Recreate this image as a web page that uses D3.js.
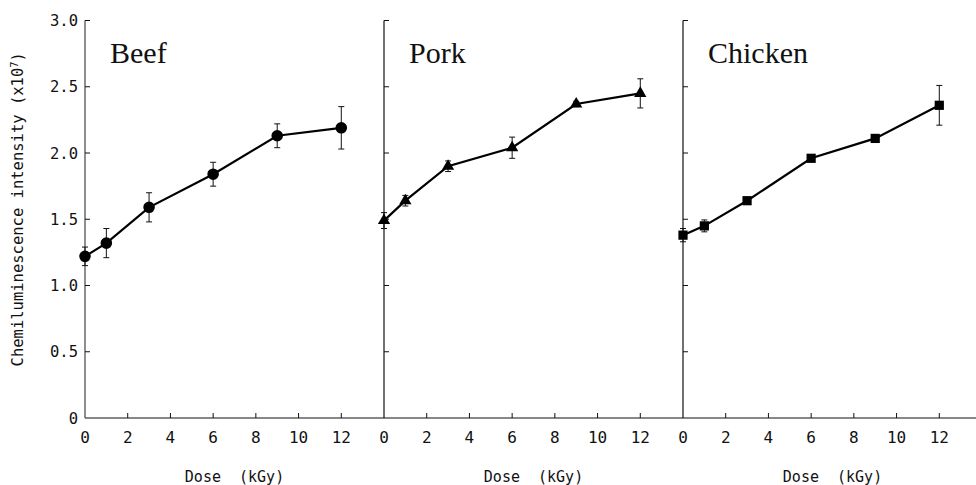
<!DOCTYPE html>
<html>
<head>
<meta charset="utf-8">
<script src="https://cdn.jsdelivr.net/npm/d3@7"></script>
<style>
  body { margin: 0; background: #fff; }
  svg { display: block; }
  .mono { font-family: "DejaVu Sans Mono", "Liberation Mono", monospace; }
</style>
</head>
<body>
<div id="chart"></div>
<script>
// Data (values in units of 10^7)
const doses = [0, 1, 3, 6, 9, 12];
const panelNames = ['Beef', 'Pork', 'Chicken'];
const beefMean = [1.22, 1.32, 1.59, 1.84, 2.13, 2.19];
const beefErr = [0.07, 0.11, 0.11, 0.09, 0.09, 0.16];
const porkMean = [1.49, 1.64, 1.90, 2.04, 2.37, 2.45];
const porkErr = [0.06, 0.04, 0.04, 0.08, 0.02, 0.11];
const chickenMean = [1.38, 1.45, 1.64, 1.96, 2.11, 2.36];
const chickenErr = [0.05, 0.045, 0.02, 0.02, 0.02, 0.15];
const markers = ['circle', 'triangle', 'square'];
const xTicks = [0, 2, 4, 6, 8, 10, 12];
const yTicks = [0, 0.5, 1.0, 1.5, 2.0, 2.5, 3.0];

const W = 976, H = 485;
const margin = { top: 20.5, left: 85, bottom: 67 };
const panelW = 299;
const plotH = H - margin.top - margin.bottom;
const TICK = 5;
const INK = '#111';

const series = [
  { name: panelNames[0], mean: beefMean, err: beefErr, marker: markers[0] },
  { name: panelNames[1], mean: porkMean, err: porkErr, marker: markers[1] },
  { name: panelNames[2], mean: chickenMean, err: chickenErr, marker: markers[2] }
];

const svg = d3.select('#chart').append('svg')
  .attr('width', W).attr('height', H);

const y = d3.scaleLinear().domain([0, 3.0]).range([margin.top + plotH, margin.top]);
const x = d3.scaleLinear().domain([0, 14]).range([0, panelW]);

// Continuous bottom axis line across all panels
svg.append('line')
  .attr('x1', margin.left).attr('x2', W)
  .attr('y1', y(0)).attr('y2', y(0))
  .attr('stroke', INK).attr('stroke-width', 1.2);

series.forEach((s, i) => {
  const g = svg.append('g')
    .attr('transform', `translate(${margin.left + i * panelW},0)`);

  // y axis line + inward ticks
  g.append('line')
    .attr('x1', 0).attr('x2', 0)
    .attr('y1', y(3.0)).attr('y2', y(0))
    .attr('stroke', i === 0 ? '#444' : INK).attr('stroke-width', 1.2);
  g.selectAll('.ytick').data(yTicks.slice(1)).enter().append('line')
    .attr('x1', 0).attr('x2', TICK)
    .attr('y1', d => y(d)).attr('y2', d => y(d))
    .attr('stroke', INK).attr('stroke-width', 1);

  if (i === 0) {
    g.selectAll('.ylab').data(yTicks).enter().append('text')
      .attr('class', 'mono')
      .attr('x', -7).attr('y', d => y(d))
      .attr('dy', '0.36em')
      .attr('text-anchor', 'end')
      .attr('font-size', '15.5px')
      .attr('fill', INK)
      .text(d => d === 0 ? '0' : d.toFixed(1));
  }

  // x ticks (inward) + labels
  g.selectAll('.xtick').data(xTicks.slice(1)).enter().append('line')
    .attr('x1', d => x(d)).attr('x2', d => x(d))
    .attr('y1', y(0)).attr('y2', y(0) - TICK)
    .attr('stroke', INK).attr('stroke-width', 1);
  g.selectAll('.xlab').data(xTicks).enter().append('text')
    .attr('class', 'mono')
    .attr('x', d => x(d)).attr('y', y(0) + 19)
    .attr('dy', '0.36em')
    .attr('text-anchor', 'middle')
    .attr('font-size', '16px')
    .attr('fill', INK)
    .text(d => d);

  g.append('text')
    .attr('class', 'mono')
    .attr('x', x(7)).attr('y', 482)
    .attr('text-anchor', 'middle')
    .attr('font-size', '15px')
    .attr('fill', INK)
    .style('white-space', 'pre')
    .text('Dose  (kGy)');

  // panel title
  g.append('text')
    .attr('x', 25).attr('y', 63)
    .attr('font-family', '"Liberation Serif", "Times New Roman", serif')
    .attr('font-size', '30px')
    .attr('fill', INK)
    .text(s.name);

  const pts = doses.map((d, k) => ({ d, m: s.mean[k], e: s.err[k] }));

  // error bars
  const eb = g.append('g').attr('stroke', INK).attr('stroke-width', 1);
  pts.forEach(p => {
    eb.append('line')
      .attr('x1', x(p.d)).attr('x2', x(p.d))
      .attr('y1', y(p.m + p.e)).attr('y2', y(p.m - p.e));
    [p.m + p.e, p.m - p.e].forEach(v => {
      eb.append('line')
        .attr('x1', x(p.d) - 3).attr('x2', x(p.d) + 3)
        .attr('y1', y(v)).attr('y2', y(v));
    });
  });

  // line
  g.append('path')
    .datum(pts)
    .attr('fill', 'none')
    .attr('stroke', '#000')
    .attr('stroke-width', 2.2)
    .attr('d', d3.line().x(p => x(p.d)).y(p => y(p.m)));

  // markers
  const symType = s.marker === 'circle' ? d3.symbolCircle
    : s.marker === 'triangle' ? d3.symbolTriangle : d3.symbolSquare;
  const symSize = s.marker === 'circle' ? 105 : s.marker === 'triangle' ? 65 : 85;
  g.selectAll('.pt').data(pts).enter().append('path')
    .attr('transform', p => `translate(${x(p.d)},${y(p.m)})`)
    .attr('d', d3.symbol().type(symType).size(symSize))
    .attr('fill', '#000');
});

// y axis title
const yTitle = svg.append('text')
  .attr('class', 'mono')
  .attr('transform', `translate(23,${(y(0) + y(3)) / 2 - 10}) rotate(-90)`)
  .attr('text-anchor', 'middle')
  .attr('font-size', '15.5px')
  .attr('fill', INK);
yTitle.append('tspan').text('Chemiluminescence intensity (x10');
yTitle.append('tspan').attr('font-size', '10.5px').attr('dy', '-0.5em').text('7');
yTitle.append('tspan').attr('dy', '0.35em').text(')');
</script>
</body>
</html>
